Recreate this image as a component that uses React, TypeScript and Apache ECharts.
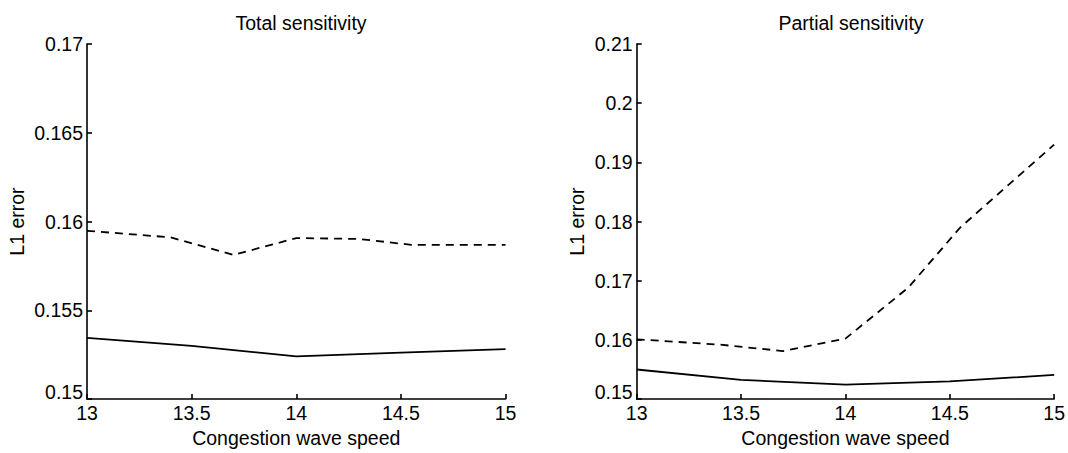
import React, { useEffect, useRef } from "react";
import * as echarts from "echarts";

// Data
const solidX = [13, 13.5, 14, 14.5, 15];
const dashedX = [13, 13.4, 13.7, 14, 14.3, 14.55, 15];

const totalSolid = [0.15345, 0.153, 0.15241, 0.15262, 0.15281];
const totalDashed = [0.15948, 0.15911, 0.15812, 0.15907, 0.15902, 0.15869, 0.15869];

const partialSolid = [0.155, 0.15326, 0.15243, 0.15298, 0.15408];
const partialDashed = [0.1601, 0.1592, 0.15812, 0.16022, 0.1688, 0.179, 0.193];

const titles = ["Total sensitivity", "Partial sensitivity"];
const xName = "Congestion wave speed";
const yName = "L1 error";

const FONT = "'Liberation Sans', Arial, Helvetica, sans-serif";
const FS = 19.5;

const pairs = (xs: number[], ys: number[]) => xs.map((x, i) => [x, ys[i]]);

export default function App() {
  const ref = useRef<HTMLDivElement>(null);
  useEffect(() => {
    if (!ref.current) return;
    const chart = echarts.init(ref.current, undefined, { renderer: "svg" });
    const axisLine = { show: true, lineStyle: { color: "#000", width: 1.6 } };
    const axisTick = { show: true, inside: true, length: 5, lineStyle: { color: "#000", width: 1.6 } };
    const labelStyle = { color: "#000", fontSize: FS, fontFamily: FONT, lineHeight: 14 };
    const fmt = (v: number) => String(+v.toFixed(3));

    const xAxis = (gi: number) => ({
      type: "value",
      gridIndex: gi,
      min: 13,
      max: 15,
      interval: 0.5,
      name: xName,
      nameLocation: "middle",
      nameGap: 25,
      nameTextStyle: { color: "#000", fontSize: FS, fontFamily: FONT },
      axisLine,
      axisTick,
      splitLine: { show: false },
      axisLabel: { ...labelStyle, margin: 7, formatter: fmt },
    });
    const yAxis = (gi: number, min: number, max: number, interval: number, gap: number) => ({
      type: "value",
      gridIndex: gi,
      min,
      max,
      interval,
      name: yName,
      nameLocation: "middle",
      nameGap: gap,
      nameRotate: 90,
      nameTextStyle: { color: "#000", fontSize: FS, fontFamily: FONT },
      axisLine,
      axisTick,
      splitLine: { show: false },
      axisLabel: { ...labelStyle, margin: 4, formatter: fmt, verticalAlignMinLabel: "bottom" },
    });
    const line = (xi: number, xs: number[], ys: number[], dashed: boolean) => ({
      type: "line",
      xAxisIndex: xi,
      yAxisIndex: xi,
      data: pairs(xs, ys),
      showSymbol: false,
      symbol: "none",
      lineStyle: { color: "#000", width: 1.8, type: dashed ? [8, 6] : "solid" },
    });
    const titleStyle = { color: "#000", fontSize: FS, fontWeight: "normal", fontFamily: FONT };

    chart.setOption({
      animation: false,
      backgroundColor: "#fff",
      title: [
        { text: titles[0], left: 296, top: 8, textAlign: "center", textStyle: titleStyle },
        { text: titles[1], left: 846, top: 8, textAlign: "center", textStyle: titleStyle },
      ],
      grid: [
        { left: 87, right: 562.5, top: 44, bottom: 46 },
        { left: 636.7, right: 12.7, top: 44, bottom: 46 },
      ],
      xAxis: [xAxis(0), xAxis(1)],
      yAxis: [yAxis(0, 0.15, 0.17, 0.005, 60), yAxis(1, 0.15, 0.21, 0.01, 50)],
      series: [
        line(0, solidX, totalSolid, false),
        line(0, dashedX, totalDashed, true),
        line(1, solidX, partialSolid, false),
        line(1, dashedX, partialDashed, true),
      ],
    });
    return () => chart.dispose();
  }, []);
  return (
    <div
      ref={ref}
      style={{ position: "fixed", left: 0, top: 0, width: 1068, height: 453, background: "#fff" }}
    />
  );
}
